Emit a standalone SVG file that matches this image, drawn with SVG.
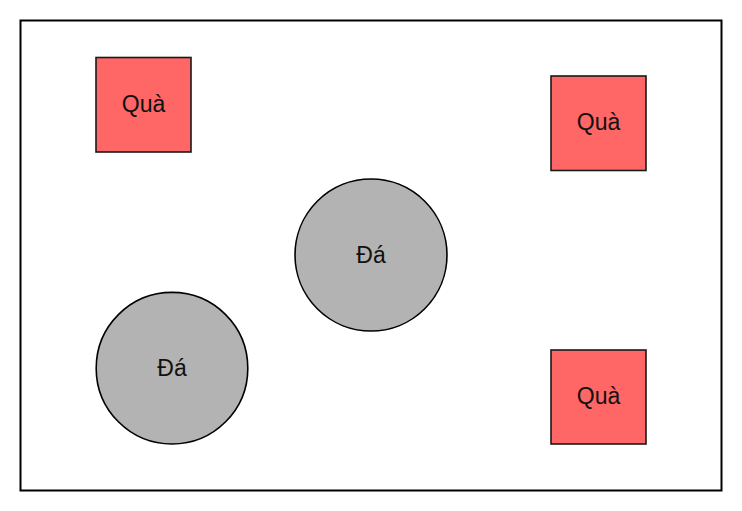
<svg xmlns="http://www.w3.org/2000/svg" width="742" height="511" viewBox="0 0 742 511">
<style>
.frame{fill:#fff;stroke:#000;stroke-width:2}
.gift{fill:#ff6666;stroke:#1a1a1a;stroke-width:1.6}
.rock{fill:#b3b3b3;stroke:#000;stroke-width:1.6}
.lbl{font-family:"Liberation Sans",Arial,sans-serif;font-size:23px;fill:#111;text-anchor:middle}
</style>
<rect width="742" height="511" fill="#fff"/>
<rect class="frame" x="20.5" y="20.5" width="701" height="470"/>
<g id="gift1"><rect class="gift" x="96" y="57.5" width="95" height="94.5"/><text class="lbl" x="143.5" y="111.5">Quà</text></g>
<g id="gift2"><rect class="gift" x="551" y="76" width="95" height="94.5"/><text class="lbl" x="598.5" y="130">Quà</text></g>
<g id="gift3"><rect class="gift" x="551" y="350" width="95" height="94"/><text class="lbl" x="598.5" y="403.5">Quà</text></g>
<g id="rock1"><circle class="rock" cx="371" cy="255" r="76"/><text class="lbl" x="371" y="262.5">Đá</text></g>
<g id="rock2"><circle class="rock" cx="172" cy="368.2" r="75.8"/><text class="lbl" x="172" y="375.5">Đá</text></g>
<g id="connectors"></g>
</svg>
